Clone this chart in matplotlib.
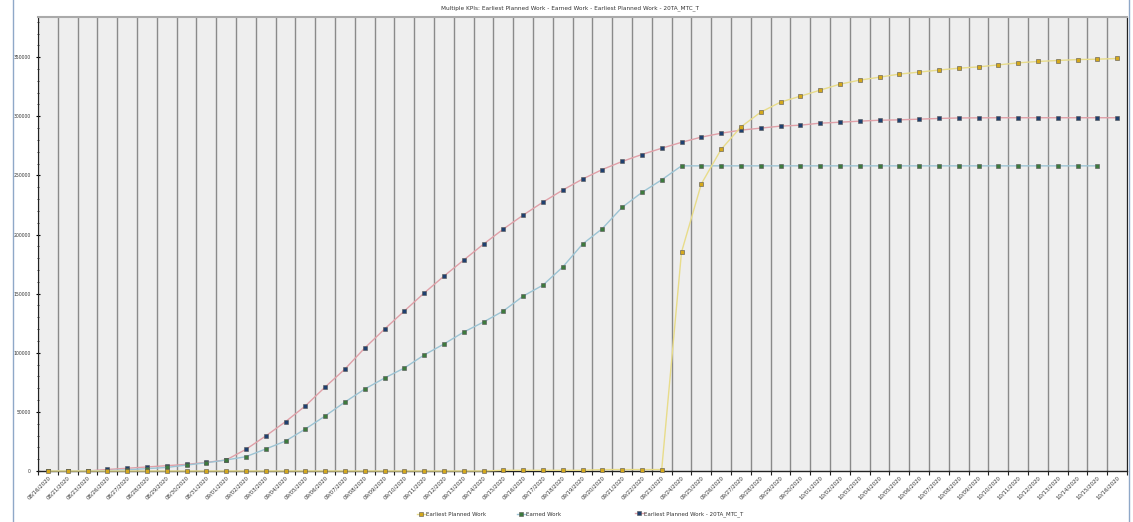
import matplotlib
matplotlib.use("Agg")
import matplotlib.pyplot as plt
from matplotlib.lines import Line2D
from matplotlib.ticker import MultipleLocator
import numpy as np

# category labels (dates)
dates = ["08/16/2020", "08/21/2020", "08/23/2020", "08/26/2020", "08/27/2020",
         "08/28/2020", "08/29/2020", "08/30/2020", "08/31/2020"]
dates += ["09/%02d/2020" % d for d in range(1, 31)]
dates += ["10/%02d/2020" % d for d in range(1, 17)]

# Earliest Planned Work
planned = [0, 0, 0, 0, 0, 0, 0, 0, 0, 0,
           0, 0, 0, 0, 0, 0, 0, 0, 0, 0,
           0, 0, 0, 600, 600, 600, 600, 600, 1200, 1200,
           1200, 1200, 185100, 242800, 272000, 291000, 303500, 312000, 317000, 322100,
           327200, 330600, 333100, 335700, 337400, 339100, 340700, 341800, 343500, 345200,
           346400, 347200, 348000, 348300, 348900]

# Earned Work (no value for the last date)
earned = [0, 0, 0, 300, 1000, 2000, 3000, 5000, 7000, 9300,
          12100, 18600, 25300, 35500, 46500, 58300, 69300, 78600, 87100, 98100,
          107400, 117500, 126000, 135300, 147900, 157200, 172500, 191900, 205000, 223000,
          235600, 246300, 258100, 258100, 258100, 258100, 258100, 258100, 258100, 258100,
          258100, 258100, 258100, 258100, 258100, 258100, 258100, 258100, 258100, 258100,
          258100, 258100, 258100, 258100]

# Earliest Planned Work - 20TA_MTC_T
planned_mtc = [0, 0, 0, 1300, 2300, 3400, 4500, 5600, 7300, 9300,
               18300, 29600, 41700, 55000, 71000, 86200, 104000, 120000, 135300, 150500,
               164800, 178400, 191900, 204600, 216400, 227400, 237600, 246900, 255000, 261800,
               267700, 273000, 278000, 282400, 285700, 288300, 290000, 291700, 292500, 294200,
               295000, 295900, 296700, 297000, 297600, 298200, 298600, 298700, 298800, 298800,
               298800, 298800, 298800, 298800, 298800]

x = np.arange(len(dates))

fig = plt.figure(figsize=(11.33, 5.22), dpi=100)
ax = fig.add_axes([38 / 1133, 1 - 471 / 522, (1127 - 38) / 1133, (471 - 17) / 522])
ax.set_facecolor("#eeeeee")

l_mtc, = ax.plot(x, planned_mtc, color="#e0a0a8", lw=1.0, marker="s", ms=3.2,
                 mfc="#1f4070", mec="#555555", mew=0.4, zorder=3)
l_earn, = ax.plot(x[:len(earned)], earned, color="#9cc4d4", lw=1.0, marker="s", ms=3.2,
                  mfc="#3d7a3d", mec="#555555", mew=0.4, zorder=3)
l_plan, = ax.plot(x, planned, color="#e8dc8a", lw=1.0, marker="s", ms=3.2,
                  mfc="#d4a81c", mec="#555555", mew=0.4, zorder=4, clip_on=False)

ax.set_xlim(-0.5, len(dates) - 0.5)
ax.set_ylim(0, 384000)

ax.set_xticks(x)
ax.set_xticklabels(dates, rotation=45, ha="right", rotation_mode="anchor",
                   fontsize=3.9, color="#333333")
ax.set_xticks(np.arange(-0.5, len(dates), 1), minor=True)
ax.tick_params(axis="x", which="major", length=0, pad=3)
ax.tick_params(axis="x", which="minor", length=3, width=0.8, color="#222222")
ax.grid(axis="x", which="minor", color="#8a8a8a", lw=1.0, zorder=1)

ax.yaxis.set_major_locator(MultipleLocator(50000))
ax.yaxis.set_minor_locator(MultipleLocator(10000))
ax.tick_params(axis="y", which="major", labelsize=3.3, length=3, width=0.8,
               direction="inout", labelcolor="#333333")
ax.tick_params(axis="y", which="minor", length=2, width=0.5, direction="inout")

for side in ["left", "bottom", "right"]:
    ax.spines[side].set_color("#222222")
ax.spines["bottom"].set_linewidth(1.0)
ax.spines["top"].set_color("#aaaaaa")
ax.spines["top"].set_linewidth(1.5)

fig.text(0.5035, 1 - 8 / 522, "Multiple KPIs: Earliest Planned Work - Earned Work - Earliest Planned Work - 20TA_MTC_T",
         ha="center", va="center", fontsize=4.15, color="#333333")

# legend: three entries placed at fixed slots like the original
legend_items = [(l_plan, "Earliest Planned Work", 417),
                (l_earn, "Earned Work", 517),
                (l_mtc, "Earliest Planned Work - 20TA_MTC_T", 635)]
for handle, text, xpos in legend_items:
    leg = fig.legend([handle], [text], loc="center left",
                     bbox_to_anchor=(xpos / 1133, 1 - 514 / 522), frameon=False,
                     fontsize=4.0, handlelength=1.6, handletextpad=0.1,
                     borderpad=0, borderaxespad=0, labelcolor="#333333")

# thin blue frame lines at the sides
fig.add_artist(Line2D([13 / 1133, 13 / 1133], [0, 1], color="#8fa8c8", lw=1.0))
fig.add_artist(Line2D([1129 / 1133, 1129 / 1133], [0, 1], color="#8fa8c8", lw=1.0))

fig.savefig("out.png", dpi=100)
